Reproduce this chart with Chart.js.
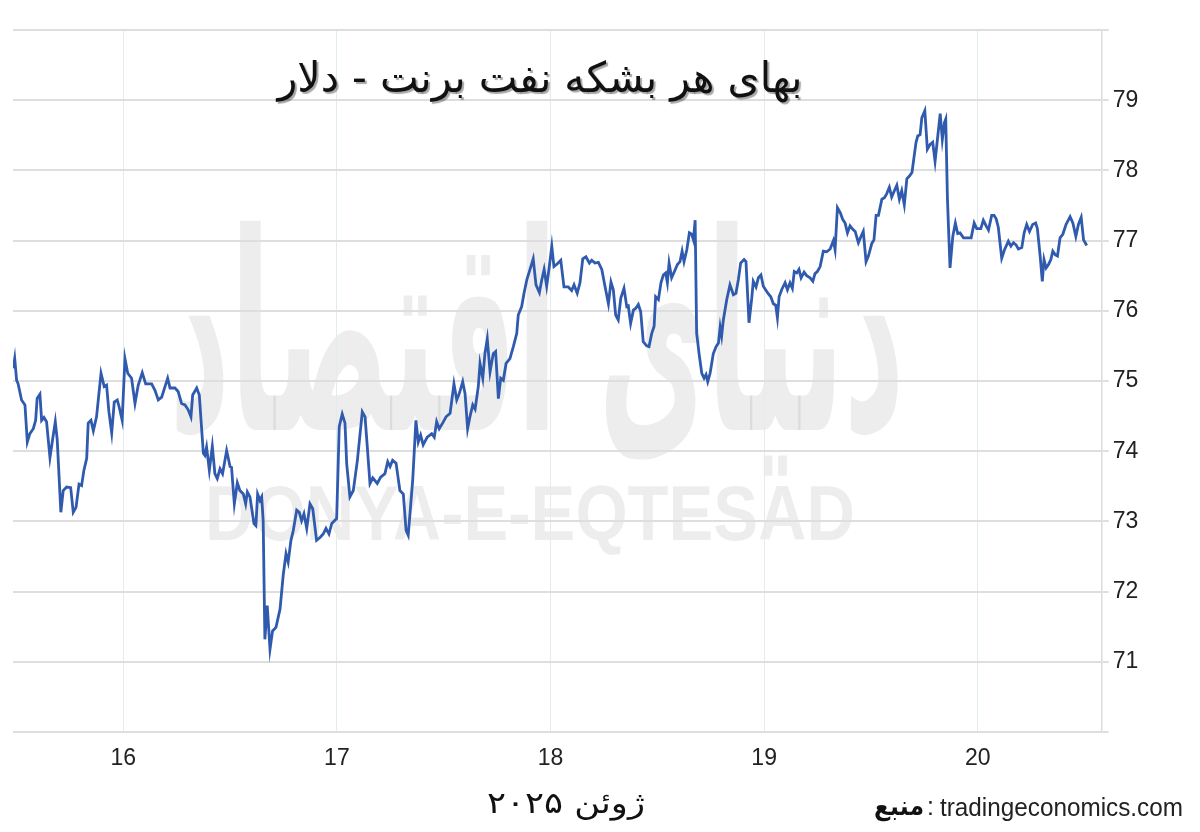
<!DOCTYPE html>
<html lang="fa">
<head>
<meta charset="utf-8">
<title>Brent crude</title>
<script src="https://cdn.jsdelivr.net/npm/chart.js@4.4.1/dist/chart.umd.min.js"></script>
<style>
  html, body { margin: 0; padding: 0; background: #fff; }
  #wrap { width: 1200px; height: 832px; }
</style>
</head>
<body>
<div id="wrap"><canvas id="brentChart" width="1200" height="832"></canvas></div>
<script>
// x = day of June 2025 (fractional), y = USD per barrel
const dayTicks = [16, 17, 18, 19, 20];
const priceLabels = [71, 72, 73, 74, 75, 76, 77, 78, 79];

const times = [
  // 15th
  15.485,15.492,15.501,15.508,15.524,15.540,15.551,15.563,15.579,15.590,15.597,15.610,15.618,15.629,15.641,15.657,15.669,15.682,15.691,15.708,15.719,
  15.735,15.754,15.766,15.779,15.793,15.805,15.816,15.829,15.836,15.849,15.860,15.875,15.896,15.911,15.922,15.933,15.946,15.958,15.972,15.981,15.995,
  // 16th
  16.008,16.021,16.039,16.055,16.070,16.089,16.105,16.133,16.148,16.164,16.180,16.208,16.219,16.242,16.257,16.273,16.289,16.304,16.317,16.325,16.344,16.356,16.375,16.382,
  16.390,16.403,16.417,16.429,16.440,16.453,16.465,16.484,16.500,16.507,16.520,16.534,16.546,16.562,16.573,16.581,16.593,16.612,16.621,16.629,16.640,16.648,16.655,
  16.663,16.674,16.687,16.699,16.715,16.734,16.749,16.762,16.772,16.785,16.796,16.812,16.824,16.835,16.846,16.859,16.874,16.887,16.905,16.921,16.936,16.949,16.963,16.976,16.999,
  // 17th
  17.011,17.025,17.038,17.046,17.061,17.077,17.096,17.119,17.132,17.155,17.168,17.189,17.205,17.225,17.238,17.249,17.261,17.277,17.295,17.311,17.324,17.334,17.355,17.370,
  17.381,17.392,17.404,17.423,17.444,17.456,17.467,17.479,17.495,17.511,17.530,17.548,17.561,17.573,17.589,17.600,17.612,17.623,17.636,17.647,17.662,17.670,17.683,17.693,
  17.704,17.717,17.732,17.743,17.756,17.767,17.779,17.792,17.810,17.826,17.842,17.849,17.865,17.876,17.889,17.904,17.919,17.932,17.948,17.959,17.970,17.982,17.994,
  // 18th
  18.006,18.016,18.032,18.048,18.063,18.083,18.099,18.110,18.125,18.138,18.151,18.166,18.182,18.193,18.208,18.224,18.240,18.255,18.271,18.283,18.294,18.305,18.317,18.329,
  18.344,18.357,18.364,18.375,18.388,18.400,18.411,18.422,18.434,18.450,18.461,18.474,18.485,18.492,18.505,18.517,18.528,18.539,18.547,18.555,18.567,18.580,18.594,18.606,
  18.616,18.625,18.638,18.650,18.661,18.669,18.677,18.684,18.697,18.708,18.719,18.728,18.736,18.747,18.762,18.775,18.786,18.794,18.801,18.809,18.825,18.840,18.856,18.868,
  18.879,18.890,18.906,18.915,18.929,18.942,18.949,18.962,18.973,18.985,18.996,
  // 19th
  19.009,19.020,19.031,19.043,19.054,19.062,19.070,19.082,19.098,19.109,19.121,19.132,19.141,19.153,19.163,19.173,19.187,19.199,19.215,19.228,19.238,19.249,19.262,19.277,
  19.293,19.309,19.324,19.332,19.343,19.356,19.368,19.379,19.390,19.402,19.415,19.426,19.441,19.452,19.464,19.477,19.488,19.504,19.514,19.524,19.535,19.551,19.563,19.574,
  19.586,19.597,19.608,19.621,19.633,19.644,19.656,19.668,19.680,19.692,19.702,19.711,19.719,19.730,19.738,19.752,19.764,19.777,19.789,19.800,19.811,19.824,19.834,19.844,
  19.850,19.858,19.870,19.883,19.895,19.906,19.917,19.933,19.956,19.969,19.983,19.995,
  // 20th
  20.014,20.026,20.039,20.050,20.065,20.076,20.086,20.096,20.112,20.125,20.143,20.155,20.167,20.179,20.190,20.206,20.217,20.229,20.242,20.257,20.271,
  20.279,20.292,20.302,20.310,20.320,20.331,20.342,20.351,20.362,20.373,20.385,20.398,20.413,20.432,20.445,20.459,20.471,20.484,20.495,20.510
];

const prices = [
  // 15th
  75.18,75.32,75.01,74.96,74.73,74.66,74.13,74.25,74.32,74.44,74.75,74.81,74.44,74.48,74.42,73.91,74.16,74.42,74.16,73.13,73.44,
  73.49,73.48,73.13,73.20,73.53,73.51,73.73,73.90,74.40,74.44,74.29,74.49,75.11,74.92,74.94,74.56,74.26,74.70,74.73,74.63,74.44,
  // 16th
  75.32,75.11,75.04,74.68,74.94,75.12,74.96,74.96,74.87,74.73,74.77,75.04,74.90,74.90,74.85,74.68,74.66,74.59,74.49,74.80,74.90,74.80,73.97,73.94,
  74.06,73.73,74.07,73.68,73.61,73.75,73.68,74.01,73.78,73.77,73.25,73.55,73.44,73.39,73.25,73.42,73.35,72.97,72.94,73.39,73.30,73.35,73.01,
  71.32,71.80,71.18,71.44,71.49,71.75,72.24,72.54,72.42,72.73,72.87,73.16,73.13,73.01,73.11,72.90,73.25,73.18,72.73,72.77,72.82,72.90,72.82,72.97,73.04,
  // 17th
  74.35,74.53,74.40,73.82,73.35,73.44,73.87,74.56,74.49,73.54,73.62,73.54,73.63,73.68,73.85,73.78,73.87,73.83,73.44,73.39,72.87,72.80,73.59,74.44,
  74.13,74.23,74.09,74.20,74.25,74.20,74.42,74.32,74.40,74.49,74.54,74.96,74.73,74.82,74.99,74.82,74.32,74.49,74.66,74.60,74.92,75.25,75.04,75.39,
  75.60,75.13,75.39,75.42,74.75,75.04,75.01,75.25,75.32,75.49,75.68,75.94,76.06,76.25,76.44,76.59,76.74,76.37,76.26,76.44,76.59,76.35,76.62,
  // 18th
  76.92,76.63,76.67,76.72,76.34,76.34,76.29,76.37,76.25,76.40,76.74,76.77,76.68,76.72,76.68,76.69,76.59,76.35,76.10,76.41,76.30,75.94,75.87,76.18,
  76.32,76.06,76.07,75.82,76.01,76.04,76.09,75.99,75.56,75.50,75.49,75.68,75.78,76.20,76.16,76.40,76.51,76.54,76.40,76.68,76.47,76.56,76.66,76.70,
  76.85,76.70,76.87,77.11,77.09,77.01,77.29,75.68,75.35,75.11,75.04,75.09,74.99,75.11,75.39,75.49,75.54,75.77,75.64,75.87,76.16,76.37,76.23,76.25,
  76.44,76.68,76.73,76.70,75.83,76.18,76.42,76.34,76.47,76.51,76.35,
  // 19th
  76.29,76.24,76.20,76.10,76.08,75.90,76.20,76.30,76.40,76.30,76.40,76.32,76.56,76.54,76.59,76.47,76.55,76.50,76.47,76.42,76.53,76.56,76.63,76.85,
  76.84,76.88,77.00,76.87,77.47,77.40,77.30,77.25,77.11,77.21,77.16,77.13,76.97,77.05,77.13,76.70,76.78,76.96,77.01,77.36,77.36,77.59,77.61,77.67,
  77.76,77.62,77.70,77.79,77.59,77.71,77.51,77.88,77.92,77.97,78.20,78.40,78.49,78.51,78.75,78.85,78.30,78.37,78.40,78.13,78.44,78.81,78.44,78.68,
  78.73,77.59,76.61,77.06,77.25,77.10,77.11,77.04,77.04,77.04,77.25,77.17,
  // 20th
  77.17,77.29,77.21,77.15,77.36,77.36,77.31,77.19,76.75,76.87,76.99,76.92,76.97,76.94,76.88,76.90,77.11,77.23,77.13,77.23,77.25,
  77.17,76.78,76.42,76.73,76.61,76.66,76.73,76.85,76.80,76.78,77.04,77.09,77.23,77.34,77.25,77.06,77.23,77.33,77.01,76.93
];

const chartTitle = 'بهای هر بشکه نفت برنت - دلار';
const monthLabel = 'ژوئن ۲۰۲۵';
const sourceWord = 'منبع';
const sourceSite = 'tradingeconomics.com';
const logoFa = 'دنیای اقتصاد';
const logoEn = 'DONYA-E-EQTESAD';

const points = [];
for (let i = 0; i < Math.min(times.length, prices.length); i++) {
  points.push({ x: times[i], y: prices[i] });
}

const arabicFont = '"DejaVu Sans", "Noto Sans", sans-serif';
const latinFont = '"Liberation Sans", Arial, sans-serif';

// squeeze/stretch text to a wanted width (and optional vertical stretch)
function fitText(ctx, text, x, y, width, align, yScale) {
  const w = ctx.measureText(text).width || 1;
  ctx.save();
  ctx.translate(x, y);
  ctx.scale(width / w, yScale || 1);
  ctx.textAlign = align;
  ctx.fillText(text, 0, 0);
  ctx.restore();
}

const decor = {
  id: 'decor',
  beforeDraw(chart) {
    const ctx = chart.ctx;
    ctx.save();
    ctx.fillStyle = '#fff';
    ctx.fillRect(0, 0, chart.width, chart.height);
    ctx.textBaseline = 'alphabetic';
    ctx.fillStyle = 'rgba(0,0,0,0.07)';
    ctx.direction = 'rtl';
    ctx.font = 'bold 190px ' + arabicFont;
    fitText(ctx, logoFa, 537, 430, 735, 'center', 1.45);
    ctx.direction = 'ltr';
    ctx.fillStyle = 'rgba(0,0,0,0.07)';
    ctx.font = 'bold 78px ' + latinFont;
    fitText(ctx, logoEn, 530, 540, 650, 'center');
    ctx.restore();
  },
  afterDraw(chart) {
    const ctx = chart.ctx;
    ctx.save();
    ctx.textBaseline = 'alphabetic';
    ctx.direction = 'rtl';
    ctx.font = '42px ' + arabicFont;
    ctx.shadowColor = 'rgba(0,0,0,0.35)';
    ctx.shadowOffsetX = 2;
    ctx.shadowOffsetY = 2;
    ctx.shadowBlur = 1;
    ctx.fillStyle = '#111';
    fitText(ctx, chartTitle, 540, 92, 525, 'center');
    ctx.shadowColor = 'transparent';
    ctx.font = '30px ' + arabicFont;
    fitText(ctx, monthLabel, 566, 813, 158, 'center');
    ctx.font = 'bold 26px ' + arabicFont;
    fitText(ctx, sourceWord, 924, 815, 50, 'right');
    ctx.direction = 'ltr';
    ctx.font = '25px ' + latinFont;
    ctx.fillStyle = '#222';
    ctx.textAlign = 'left';
    ctx.fillText(':', 927, 815);
    fitText(ctx, sourceSite, 940, 816, 243, 'left');
    ctx.restore();
  }
};

new Chart(document.getElementById('brentChart'), {
  type: 'line',
  data: {
    datasets: [{
      data: points,
      borderColor: '#2f5aae',
      borderWidth: 2.8,
      pointRadius: 0,
      tension: 0,
      fill: false
    }]
  },
  options: {
    responsive: false,
    animation: false,
    layout: { padding: { left: 13, top: 30, right: 0, bottom: 0 } },
    plugins: {
      legend: { display: false },
      tooltip: { enabled: false }
    },
    scales: {
      x: {
        type: 'linear',
        min: 15.484,
        max: 20.58,
        afterBuildTicks: s => { s.ticks = dayTicks.map(v => ({ value: v })); },
        afterFit: s => { s.height = 100; },
        grid: { color: '#e3ebf2', lineWidth: 1, drawTicks: false },
        border: { display: false },
        ticks: {
          padding: 13,
          color: '#222',
          font: { family: latinFont, size: 23 },
          callback: v => String(v)
        }
      },
      y: {
        position: 'right',
        min: 70,
        max: 80,
        afterFit: s => { s.width = 98.3; },
        grid: { color: '#dedede', lineWidth: 2, tickLength: 7 },
        border: { display: true, color: '#dcdcdc', width: 1.5 },
        ticks: {
          stepSize: 1,
          padding: 4,
          color: '#222',
          font: { family: latinFont, size: 23 },
          callback: v => priceLabels.includes(v) ? String(v) : ''
        }
      }
    }
  },
  plugins: [decor]
});
</script>
</body>
</html>
